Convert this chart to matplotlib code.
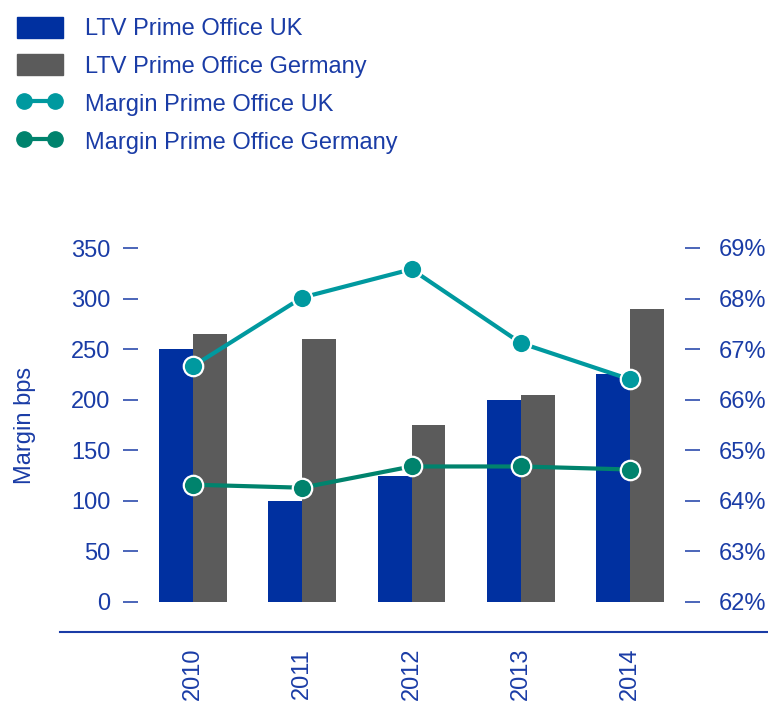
import matplotlib
matplotlib.use("Agg")
import matplotlib.pyplot as plt
from matplotlib.lines import Line2D
from matplotlib.patches import Patch
import numpy as np

plt.rcParams['font.family'] = ['Liberation Sans', 'DejaVu Sans']

# data
years = ['2010', '2011', '2012', '2013', '2014']
ltv_uk = [67.0, 64.0, 64.5, 66.0, 66.5]          # %
ltv_germany = [67.3, 67.2, 65.5, 66.1, 67.8]     # %
margin_uk = [233, 301, 329, 256, 220]            # bps
margin_germany = [116, 113, 134, 134, 131]       # bps

left_ticks = [0, 50, 100, 150, 200, 250, 300, 350]
right_ticks = [62, 63, 64, 65, 66, 67, 68, 69]

BLUE = '#0030a0'
GREY = '#5b5b5b'
TEAL = '#00999f'
GREEN = '#00836d'
TXT = '#1a3ca6'
FS = 17

W, H = 768, 701
fig = plt.figure(figsize=(W / 100, H / 100), dpi=100)
ax = fig.add_axes([138 / W, 1 - 602 / H, (685 - 138) / W, (602 - 248) / H])
ax2 = ax.twinx()

x = np.arange(len(years))
bw = 0.31
ax2.bar(x - bw / 2, ltv_uk, width=bw, color=BLUE)
ax2.bar(x + bw / 2, ltv_germany, width=bw, color=GREY)
ax2.set_ylim(62, 69)
ax2.set_yticks(right_ticks)
ax2.set_yticklabels([f'{t}%' for t in right_ticks])

ax.plot(x, margin_uk, color=TEAL, lw=3, marker='o', ms=14,
        mfc=TEAL, mec='white', mew=1.6, zorder=3)
ax.plot(x, margin_germany, color=GREEN, lw=3, marker='o', ms=14,
        mfc=GREEN, mec='white', mew=1.6, zorder=3)
ax.set_ylim(0, 350)
ax.set_yticks(left_ticks)
ax.set_xlim(-0.5, 4.5)
ax.set_xticks(x)
ax.set_xticklabels(years, rotation=90)

ax.set_zorder(ax2.get_zorder() + 1)
ax.patch.set_visible(False)

for a in (ax, ax2):
    for s in a.spines.values():
        s.set_visible(False)
ax.tick_params(axis='y', length=11, width=1.1, color=TXT, pad=9,
               labelsize=FS, labelcolor=TXT)
ax2.tick_params(axis='y', length=11, width=1.1, color=TXT, pad=13,
                labelsize=FS, labelcolor=TXT)
ax.tick_params(axis='x', length=0, pad=33, labelsize=FS, labelcolor=TXT)

ax.set_ylabel('Margin bps', fontsize=FS, color=TXT)
ax.yaxis.set_label_coords(-0.187, 0.5)

# bottom rule
fig.add_artist(Line2D([60 / W, 1], [1 - 632 / H] * 2, color=TXT, lw=1.5))

handles = [
    Patch(color=BLUE),
    Patch(color=GREY),
    Line2D([], [], color=TEAL, lw=3, marker='o', ms=11, mfc=TEAL, mec=TEAL),
    Line2D([], [], color=GREEN, lw=3, marker='o', ms=11, mfc=GREEN, mec=GREEN),
]
labels = ['LTV Prime Office UK', 'LTV Prime Office Germany',
          'Margin Prime Office UK', 'Margin Prime Office Germany']
leg = fig.legend(handles, labels, loc='upper left', bbox_to_anchor=(0.0, 1.0),
                 frameon=False, fontsize=FS, numpoints=2, handlelength=1.95,
                 handleheight=1.0, handletextpad=0.95, labelspacing=0.6,
                 borderaxespad=0.3)
for t in leg.get_texts():
    t.set_color(TXT)

fig.savefig('out.png', dpi=100)
